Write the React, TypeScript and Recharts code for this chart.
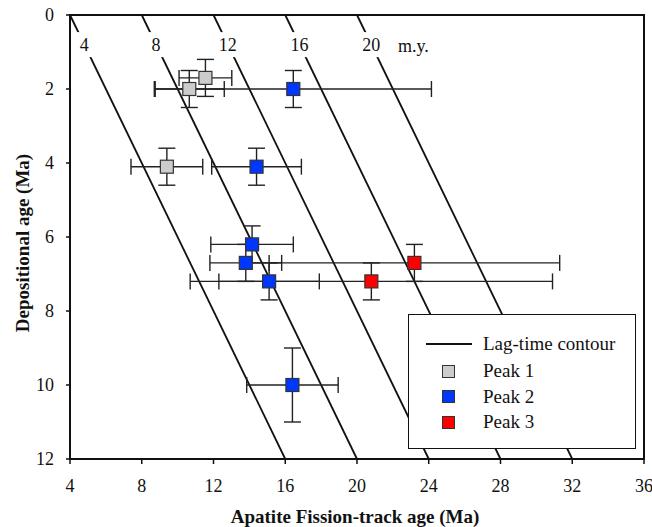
import {
  ScatterChart,
  Scatter,
  XAxis,
  YAxis,
  ErrorBar,
  ReferenceLine,
  ReferenceDot,
  ReferenceArea,
  Label,
} from "recharts";

// axis ticks
const xTicks = [4, 8, 12, 16, 20, 24, 28, 32, 36];
const yTicks = [0, 2, 4, 6, 8, 10, 12];

// lag-time contours (m.y.): fission-track age = depositional age + lag
const lagTimes = [4, 8, 12, 16, 20];
const lagUnit = "m.y.";
const contourLabelAge = 0.8;

// x = AFT age, y = depositional age, errors
const peak1 = [
  { x: 11.55, y: 1.7, xErr: 1.47, yErr: 0.5 },
  { x: 10.65, y: 2.0, xErr: 1.95, yErr: 0.5 },
  { x: 9.4, y: 4.1, xErr: 2.0, yErr: 0.5 },
];

const peak2 = [
  { x: 16.45, y: 2.0, xErr: 7.7, yErr: 0.5 },
  { x: 14.4, y: 4.1, xErr: 2.5, yErr: 0.5 },
  { x: 14.15, y: 6.2, xErr: 2.3, yErr: 0.5 },
  { x: 13.8, y: 6.7, xErr: 2.0, yErr: 0.5 },
  { x: 15.1, y: 7.2, xErr: 2.8, yErr: 0.5 },
  { x: 16.4, y: 10.0, xErr: 2.55, yErr: 1.0 },
];

const peak3 = [
  { x: 23.2, y: 6.7, xErr: 8.1, yErr: 0.5 },
  { x: 20.8, y: 7.2, xErr: 10.1, yErr: 0.5 },
];

const peakNames = ["Peak 1", "Peak 2", "Peak 3"];
const peakColors = ["#cccccc", "#0037ff", "#ff0000"];
const contourLegend = "Lag-time contour";

const series = [peak1, peak2, peak3].map((data, i) => ({
  name: peakNames[i],
  data,
  color: peakColors[i],
}));

const FONT = '"Liberation Serif", "Times New Roman", serif';
const INK = "#111";

const squareShape = (color: string) => (props: any) => {
  const { cx, cy } = props;
  if (cx == null || cy == null) return <g />;
  return (
    <rect
      x={cx - 6.5}
      y={cy - 6.5}
      width={13}
      height={13}
      fill={color}
      stroke="#333"
      strokeWidth={1.2}
    />
  );
};

const contourLabel = (text: string, withUnit: boolean) => (props: any) => {
  const { cx, cy } = props;
  return (
    <g>
      <rect x={cx - 12} y={cy - 12.5} width={24} height={25} fill="#fff" />
      <text
        x={cx}
        y={cy}
        textAnchor="middle"
        dominantBaseline="central"
        fontFamily={FONT}
        fontSize={18}
        fill={INK}
      >
        {text}
      </text>
      {withUnit && (
        <text
          x={cx + 42}
          y={cy + 1}
          textAnchor="middle"
          dominantBaseline="central"
          fontFamily={FONT}
          fontSize={18}
          fill={INK}
        >
          {lagUnit}
        </text>
      )}
    </g>
  );
};

const XTitle = (props: any) => {
  const { viewBox } = props;
  const cx = viewBox.x + viewBox.width / 2 - 2;
  return (
    <text
      x={cx}
      y={516}
      textAnchor="middle"
      dominantBaseline="central"
      fontFamily={FONT}
      fontWeight="bold"
      fontSize={19}
      fill={INK}
    >
      Apatite Fission-track age (Ma)
    </text>
  );
};

const YTitle = (props: any) => {
  const { viewBox } = props;
  const cx = 22;
  const cy = viewBox.y + viewBox.height / 2 + 6;
  return (
    <text
      x={cx}
      y={cy}
      transform={`rotate(-90, ${cx}, ${cy})`}
      textAnchor="middle"
      dominantBaseline="central"
      fontFamily={FONT}
      fontWeight="bold"
      fontSize={19}
      fill={INK}
    >
      Depositional age (Ma)
    </text>
  );
};

export default function App() {
  const maxAge = yTicks[yTicks.length - 1];
  return (
    <div style={{ position: "absolute", left: 0, top: 0, width: 652, height: 527 }}>
      <ScatterChart
        width={652}
        height={527}
        margin={{ top: 15, right: 8, bottom: 0, left: 0 }}
      >
        <XAxis
          type="number"
          dataKey="x"
          domain={[4, 36]}
          ticks={xTicks}
          interval={0}
          height={68}
          tickSize={5}
          tickMargin={15}
          axisLine={{ stroke: INK, strokeWidth: 2 }}
          tickLine={{ stroke: INK, strokeWidth: 1.5 }}
          tick={{ fill: INK, fontSize: 18, fontFamily: FONT }}
          allowDataOverflow
        >
          <Label content={XTitle} />
        </XAxis>
        <YAxis
          type="number"
          dataKey="y"
          domain={[0, 12]}
          ticks={yTicks}
          interval={0}
          reversed
          width={70}
          tickSize={4}
          tickMargin={12}
          axisLine={{ stroke: INK, strokeWidth: 2 }}
          tickLine={{ stroke: INK, strokeWidth: 1.5 }}
          tick={{ fill: INK, fontSize: 18, fontFamily: FONT }}
          allowDataOverflow
        >
          <Label content={YTitle} />
        </YAxis>

        {lagTimes.map((lag) => (
          <ReferenceLine
            key={`lag-${lag}`}
            segment={[
              { x: lag, y: 0 },
              { x: lag + maxAge, y: maxAge },
            ]}
            stroke={INK}
            strokeWidth={1.8}
            ifOverflow="visible"
          />
        ))}
        {lagTimes.map((lag, i) => (
          <ReferenceDot
            key={`lab-${lag}`}
            x={lag + contourLabelAge}
            y={contourLabelAge}
            r={10}
            shape={contourLabel(String(lag), i === lagTimes.length - 1)}
          />
        ))}

        <ReferenceArea
          x1={4}
          x2={36}
          y1={0}
          y2={12}
          fill="none"
          fillOpacity={0}
          stroke={INK}
          strokeWidth={2}
        />

        {series.map((s) => (
          <Scatter
            key={s.name}
            name={s.name}
            data={s.data}
            shape={squareShape(s.color)}
            isAnimationActive={false}
          >
            <ErrorBar
              dataKey="xErr"
              direction="x"
              width={8}
              stroke="#222"
              strokeWidth={1.4}
              isAnimationActive={false}
            />
            <ErrorBar
              dataKey="yErr"
              direction="y"
              width={8.5}
              stroke="#222"
              strokeWidth={1.4}
              isAnimationActive={false}
            />
          </Scatter>
        ))}
      </ScatterChart>

      <div
        style={{
          position: "absolute",
          left: 408,
          top: 314,
          width: 228,
          height: 135,
          boxSizing: "border-box",
          border: `1.5px solid ${INK}`,
          background: "#fff",
          fontFamily: FONT,
          fontSize: 19,
          color: INK,
        }}
      >
        <div style={{ position: "absolute", left: 17, top: 18, height: 22, display: "flex", alignItems: "center" }}>
          <div style={{ width: 46, height: 2, background: INK }} />
          <span style={{ marginLeft: 11, whiteSpace: "nowrap" }}>{contourLegend}</span>
        </div>
        {series.map((s, i) => (
          <div
            key={s.name}
            style={{
              position: "absolute",
              left: 33,
              top: 45 + i * 25.5,
              height: 22,
              display: "flex",
              alignItems: "center",
            }}
          >
            <div
              style={{
                width: 13,
                height: 13,
                boxSizing: "border-box",
                background: s.color,
                border: "1.2px solid #333",
              }}
            />
            <span style={{ marginLeft: 28, whiteSpace: "nowrap" }}>{s.name}</span>
          </div>
        ))}
      </div>
    </div>
  );
}
